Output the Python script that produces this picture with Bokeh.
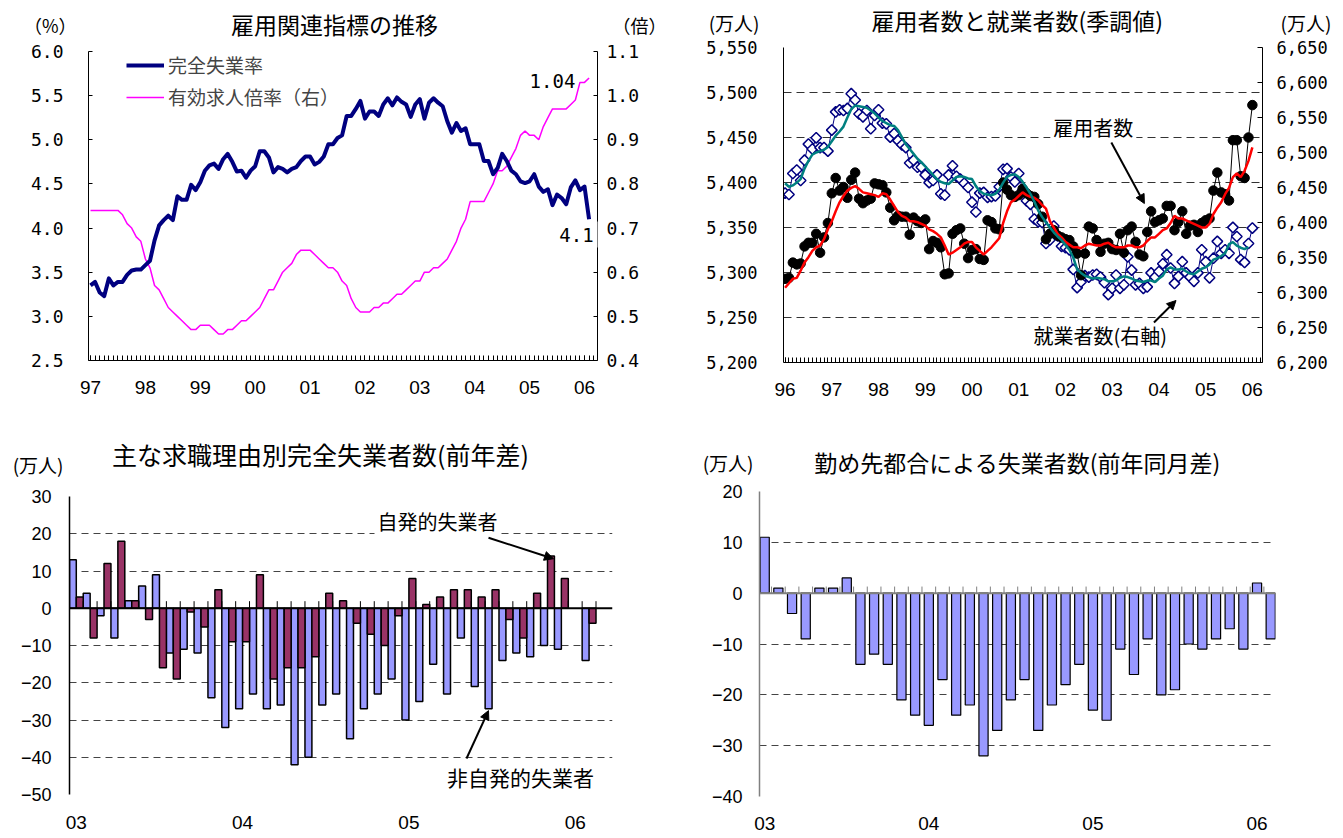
from bokeh.plotting import figure
from bokeh.layouts import row, column
from bokeh.models import (Range1d, LinearAxis, FixedTicker, PrintfTickFormatter,
                          NumeralTickFormatter, Label, Arrow, NormalHead, Legend,
                          LegendItem, Span)
from bokeh.embed import file_html
from bokeh.resources import INLINE

# ---------------- 雇用関連指標の推移 (1997/01 - 2006/02, monthly) ----------------
rate_years = ["97", "98", "99", "00", "01", "02", "03", "04", "05", "06"]
unemployment_rate = [
    3.35, 3.39, 3.27, 3.23, 3.43, 3.35, 3.39, 3.39, 3.47, 3.52, 3.53, 3.53,
    3.58, 3.63, 3.86, 4.03, 4.09, 4.14, 4.09, 4.36, 4.32, 4.32, 4.49, 4.43,
    4.52, 4.65, 4.71, 4.73, 4.67, 4.78, 4.84, 4.75, 4.64, 4.65, 4.57, 4.65,
    4.70, 4.87, 4.87, 4.80, 4.63, 4.69, 4.67, 4.63, 4.67, 4.69, 4.76, 4.81,
    4.81, 4.72, 4.75, 4.81, 4.95, 4.95, 5.02, 5.05, 5.27, 5.27, 5.35, 5.44,
    5.24, 5.32, 5.32, 5.27, 5.40, 5.47, 5.39, 5.48, 5.43, 5.40, 5.26, 5.40,
    5.46, 5.24, 5.42, 5.47, 5.42, 5.38, 5.21, 5.08, 5.19, 5.10, 5.13, 4.95,
    4.95, 4.95, 4.76, 4.76, 4.61, 4.68, 4.84, 4.76, 4.65, 4.61, 4.53, 4.51,
    4.53, 4.61, 4.47, 4.41, 4.44, 4.26, 4.38, 4.34, 4.27, 4.46, 4.54, 4.43,
    4.47, 4.1,
]
job_offers_ratio = [
    0.74, 0.74, 0.74, 0.74, 0.74, 0.74, 0.74, 0.73, 0.71, 0.70, 0.68, 0.67,
    0.63, 0.61, 0.57, 0.56, 0.54, 0.52, 0.51, 0.50, 0.49, 0.48, 0.47, 0.47,
    0.48, 0.48, 0.48, 0.47, 0.46, 0.46, 0.47, 0.47, 0.48, 0.49, 0.49, 0.50,
    0.51, 0.52, 0.54, 0.56, 0.56, 0.58, 0.60, 0.61, 0.62, 0.64, 0.65, 0.65,
    0.65, 0.64, 0.63, 0.62, 0.61, 0.61, 0.60, 0.58, 0.57, 0.54, 0.52, 0.51,
    0.51, 0.51, 0.52, 0.52, 0.53, 0.53, 0.54, 0.55, 0.55, 0.56, 0.57, 0.58,
    0.58, 0.60, 0.60, 0.61, 0.61, 0.62, 0.63, 0.65, 0.67, 0.70, 0.72, 0.76,
    0.76, 0.76, 0.76, 0.78, 0.80, 0.83, 0.83, 0.84, 0.86, 0.88, 0.91, 0.92,
    0.91, 0.91, 0.90, 0.93, 0.95, 0.97, 0.97, 0.97, 0.97, 0.98, 0.99, 1.03,
    1.03, 1.04,
]

# ---------------- 雇用者数と就業者数 (1996/01 - 2006/01, 万人) ----------------
count_years = ["96", "97", "98", "99", "00", "01", "02", "03", "04", "05", "06"]
employees = [
    5293, 5294, 5311, 5309, 5310, 5329, 5333, 5333, 5343, 5322, 5339, 5355,
    5388, 5405, 5391, 5395, 5383, 5403, 5411, 5382, 5377, 5380, 5382, 5399,
    5398, 5397, 5389, 5372, 5358, 5363, 5362, 5362, 5342, 5361, 5357, 5355,
    5359, 5326, 5335, 5333, 5328, 5298, 5299, 5343, 5347, 5349, 5332, 5316,
    5325, 5326, 5315, 5314, 5358, 5356, 5349, 5348, 5400, 5392, 5386, 5384,
    5386, 5393, 5388, 5385, 5384, 5376, 5362, 5337, 5343, 5347, 5341, 5339,
    5337, 5336, 5329, 5321, 5297, 5321, 5351, 5349, 5336, 5323, 5332, 5333,
    5326, 5325, 5343, 5322, 5347, 5351, 5334, 5320, 5318, 5345, 5368, 5356,
    5358, 5360, 5374, 5374, 5347, 5356, 5368, 5343, 5352, 5353, 5345, 5355,
    5358, 5360, 5391, 5411, 5389, 5387, 5380, 5447, 5447, 5407, 5405, 5450,
    5486,
]
employees_trend = [
    5283, 5288, 5293, 5294, 5302, 5311, 5317, 5324, 5328, 5330, 5337, 5348,
    5357, 5368, 5378, 5385, 5391, 5394, 5396, 5393, 5389, 5388, 5387, 5386,
    5384, 5388, 5387, 5381, 5374, 5367, 5363, 5361, 5357, 5357, 5356, 5354,
    5352, 5348, 5346, 5343, 5339, 5330, 5320, 5322, 5325, 5328, 5332, 5334,
    5334, 5328, 5324, 5320, 5324, 5328, 5333, 5338, 5355, 5368, 5378, 5381,
    5385, 5389, 5386, 5384, 5383, 5380, 5375, 5371, 5357, 5350, 5343, 5339,
    5334, 5331, 5328, 5328, 5327, 5330, 5332, 5331, 5330, 5330, 5332, 5333,
    5330, 5328, 5328, 5328, 5330, 5330, 5328, 5328, 5330, 5335, 5339, 5339,
    5343, 5347, 5349, 5355, 5363, 5360, 5360, 5358, 5356, 5354, 5352, 5350,
    5350, 5354, 5365, 5372, 5378, 5387, 5394, 5406, 5410, 5406, 5413, 5424,
    5439,
]
employed = [
    6442, 6440, 6470, 6475, 6460, 6489, 6512, 6505, 6521, 6507, 6507, 6502,
    6532, 6558, 6561, 6560, 6563, 6584, 6575, 6555, 6551, 6560, 6534, 6553,
    6561, 6542, 6541, 6522, 6527, 6517, 6511, 6507, 6485, 6489, 6479, 6479,
    6468, 6457, 6460, 6468, 6441, 6439, 6468, 6481, 6466, 6462, 6456, 6450,
    6429, 6415, 6442, 6443, 6436, 6437, 6438, 6451, 6476, 6477, 6465, 6458,
    6470, 6446, 6431, 6426, 6405, 6401, 6400, 6370, 6375, 6395, 6381, 6366,
    6364, 6361, 6333, 6307, 6315, 6324, 6322, 6325, 6326, 6322, 6314, 6297,
    6306, 6325, 6306, 6311, 6351, 6332, 6311, 6313, 6306, 6308, 6328, 6322,
    6330, 6341, 6354, 6335, 6313, 6323, 6344, 6328, 6322, 6316, 6328, 6361,
    6344, 6321, 6349, 6373, 6356, 6361, 6356, 6393, 6380, 6347, 6343, 6370,
    6392,
]
employed_trend = [
    6456, 6451, 6453, 6457, 6462, 6477, 6488, 6497, 6500, 6502, 6504, 6508,
    6516, 6524, 6530, 6537, 6550, 6562, 6567, 6566, 6565, 6564, 6560, 6556,
    6550, 6545, 6542, 6539, 6538, 6532, 6522, 6512, 6505, 6498, 6491, 6486,
    6480, 6474, 6468, 6462, 6458, 6456, 6455, 6460, 6465, 6466, 6465, 6463,
    6462, 6452, 6445, 6441, 6440, 6439, 6441, 6447, 6457, 6465, 6468, 6469,
    6465, 6458, 6450, 6441, 6430, 6417, 6408, 6400, 6393, 6386, 6380, 6375,
    6368, 6361, 6350, 6333, 6328, 6324, 6322, 6320, 6321, 6320, 6319, 6316,
    6316, 6317, 6321, 6323, 6322, 6320, 6317, 6316, 6315, 6317, 6317, 6315,
    6320, 6324, 6333, 6336, 6333, 6333, 6334, 6330, 6327, 6326, 6330, 6334,
    6336, 6340, 6347, 6349, 6352, 6356, 6369, 6372, 6367, 6364, 6362, 6365,
]

# ---------------- 主な求職理由別完全失業者数 (2003/01 - 2006/02, 前年差, 万人) ----------------
reason_years = ["03", "04", "05", "06"]
involuntary = [
    13, 4, -2, -8, 2, 6, 9, -12, -11, -12, -24, -32,
    -27, -23, -27, -26, -42, -40, -26, -23, -35, -27, -23, -19,
    -30, -25, -15, -23, -8, -21, -27, -14, -12, -13, -10, -11,
    None, -14,
]
voluntary = [
    3, -8, 12, 18, 2, -3, -16, -19, -1, -5, 5, -9,
    -9, 9, -19, -16, -16, -13, 4, 2, -4, -7, -10, -2,
    8, 1, 3, 5, 5, 3, 5, -3, -8, 4, 14, 8,
    None, -4,
]

# ---------------- 勤め先都合による失業者数 (2003/01 - 2006/02, 前年同月差, 万人) ----------------
dismissal_years = ["03", "04", "05", "06"]
dismissal = [
    11, 1, -4, -9, 1, 1, 3, -14, -12, -14, -21, -24,
    -26, -17, -24, -22, -32, -27, -21, -17, -27, -22, -18, -14,
    -23, -25, -11, -16, -9, -20, -19, -10, -11, -9, -7, -11,
    2, -9,
]

JP = "Noto Sans CJK JP"
MONO = "DejaVu Sans Mono"
SANS = "Liberation Sans"

# Page geometry of each panel: canvas origin/size, height of the heading strip
# and the plot-frame edges (all in page pixels)
TL = dict(ox=0, oy=0, w=671, h=419, hh=40, left=88, right=597, top=51, bottom=360,
          x=(-0.44, 110.84), y=(2.5, 6.0))
TR = dict(ox=671, oy=0, w=672, h=419, hh=38, left=783.5, right=1262, top=47, bottom=362,
          x=(-0.4, 122.6), y=(5200, 5550))
BL = dict(ox=0, oy=419, w=671, h=419, hh=61, left=69, right=612, top=495.7, bottom=794,
          x=(-0.49, 38.69), y=(-50, 30))
BR = dict(ox=671, oy=419, w=672, h=419, hh=61, left=758.75, right=1275, top=490.7, bottom=795.7,
          x=(-0.38, 37.35), y=(-40, 20))


def to_data(g, px, py):
    x0, x1 = g["x"]
    y0, y1 = g["y"]
    x = x0 + (px - g["left"]) / (g["right"] - g["left"]) * (x1 - x0)
    y = y0 + (g["bottom"] - py) / (g["bottom"] - g["top"]) * (y1 - y0)
    return x, y


def borders(g):
    return dict(min_border_left=int(round(g["left"] - g["ox"])),
                min_border_right=int(round(g["ox"] + g["w"] - g["right"])))


def unit_axis(yv, text, size, standoff):
    ax = LinearAxis(ticker=FixedTicker(ticks=[yv]), major_label_overrides={yv: text})
    ax.axis_line_color = None
    ax.major_tick_line_color = None
    ax.minor_tick_line_color = None
    ax.major_label_text_font = JP
    ax.major_label_text_font_size = f"{size}px"
    ax.major_label_text_color = "black"
    ax.major_label_standoff = standoff
    return ax


def make_header(g, title, tpos, tsize, units, usize):
    """Strip above a chart: the title inside, unit captions as side-axis labels."""
    hh = g["hh"]
    p = figure(width=g["w"], height=hh,
               x_range=Range1d(g["left"], g["right"]), y_range=Range1d(0, hh),
               x_axis_location=None, y_axis_location=None,
               output_backend="svg", toolbar_location=None, tools="",
               min_border_top=0, min_border_bottom=0, **borders(g))
    p.xgrid.visible = False
    p.ygrid.visible = False
    p.outline_line_color = None
    p.background_fill_color = "white"
    p.border_fill_color = "white"
    p.add_layout(Label(x=tpos[0], y=hh - (tpos[1] - g["oy"]), text=title,
                       text_font=JP, text_font_size=f"{tsize}px",
                       text_align="center", text_baseline="middle", text_color="black"))
    for side, py, text, standoff in units:
        p.add_layout(unit_axis(int(round(hh - (py - g["oy"]))), text, usize, standoff), side)
    return p


def make_fig(g):
    oy = g["oy"] + g["hh"]
    h = g["h"] - g["hh"]
    p = figure(width=g["w"], height=h,
               x_range=Range1d(*g["x"]), y_range=Range1d(*g["y"]),
               output_backend="svg", toolbar_location=None, tools="",
               min_border_top=int(round(g["top"] - oy)),
               min_border_bottom=int(round(oy + h - g["bottom"])), **borders(g))
    p.outline_line_color = None
    p.background_fill_color = "white"
    p.border_fill_color = "white"
    p.xgrid.visible = False
    p.ygrid.visible = False
    return p


def put_text(p, g, px, py, text, size, font=JP, align="center", bg=None, pad=0):
    x, y = to_data(g, px, py)
    lab = Label(x=x, y=y, text=text, text_font=font, text_font_size=f"{size}px",
                text_align=align, text_baseline="middle", text_color="black")
    if bg:
        lab.background_fill_color = bg
        lab.padding = pad
    p.add_layout(lab)


def put_arrow(p, g, p0, p1, width=2):
    x0, y0 = to_data(g, *p0)
    x1, y1 = to_data(g, *p1)
    p.add_layout(Arrow(x_start=x0, y_start=y0, x_end=x1, y_end=y1,
                       line_color="black", line_width=width,
                       end=NormalHead(size=9, fill_color="black", line_color="black")))


def style_axis(ax, font, size, standoff, color="black", tick_in=0, minor_in=0, line_width=1):
    ax.axis_line_color = color
    ax.axis_line_width = line_width
    ax.major_tick_line_color = color
    ax.minor_tick_line_color = color
    ax.major_tick_in = tick_in
    ax.major_tick_out = 0
    ax.minor_tick_in = minor_in
    ax.minor_tick_out = 0
    ax.major_label_text_font = font
    ax.major_label_text_font_size = f"{size}px"
    ax.major_label_text_color = "black"
    ax.major_label_standoff = standoff


# ====================== 雇用関連指標の推移 ======================
h1 = make_header(TL, "雇用関連指標の推移", (334, 23), 23,
                 [("left", 30, "（%）", 6), ("right", 30, "（倍）", 9)], 18)
p1 = make_fig(TL)
p1.extra_y_ranges = {"ratio": Range1d(0.4, 1.1)}
m1 = list(range(len(unemployment_rate)))
ratio_line = p1.line(m1, job_offers_ratio, y_range_name="ratio",
                     line_color="#FF00FF", line_width=1.5)
rate_line = p1.line(m1, unemployment_rate, line_color="#000080", line_width=4,
                    line_join="round")

xa = p1.xaxis[0]
xa.ticker = FixedTicker(ticks=[12 * i for i in range(len(rate_years))],
                        minor_ticks=list(range(0, 111)))
xa.major_label_overrides = {12 * i: y for i, y in enumerate(rate_years)}
style_axis(xa, SANS, 19, 20, tick_in=5, minor_in=5)

ya = p1.yaxis[0]
ya.ticker = FixedTicker(ticks=[2.5 + 0.5 * i for i in range(8)])
ya.formatter = PrintfTickFormatter(format="%.1f")
style_axis(ya, MONO, 18, 25, tick_in=4)

ra = LinearAxis(y_range_name="ratio",
                ticker=FixedTicker(ticks=[0.4 + 0.1 * i for i in range(8)]),
                formatter=PrintfTickFormatter(format="%.1f"))
style_axis(ra, MONO, 18, 9, tick_in=4)
p1.add_layout(ra, "right")

legend = Legend(items=[LegendItem(label="完全失業率", renderers=[rate_line]),
                       LegendItem(label="有効求人倍率（右）", renderers=[ratio_line])],
                location=(38, 250), orientation="vertical",
                label_text_font=JP, label_text_font_size="19px",
                glyph_width=38, glyph_height=22, label_height=22, label_standoff=4,
                spacing=5, padding=0, margin=0,
                border_line_color=None, background_fill_alpha=0)
p1.add_layout(legend)

put_text(p1, TL, 552, 80, "1.04", 19, font=MONO)
put_text(p1, TL, 576, 234, "4.1", 19, font=MONO, bg="white", pad=6)

# ====================== 雇用者数と就業者数(季調値) ======================
h2 = make_header(TR, "雇用者数と就業者数(季調値)", (1017, 19), 23,
                 [("left", 27, "(万人)", 18), ("right", 27, "(万人)", 12)], 19)
p2 = make_fig(TR)
p2.extra_y_ranges = {"persons": Range1d(6200, 6650)}
m2 = list(range(len(employees)))

p2.ygrid.visible = True
p2.ygrid.ticker = FixedTicker(ticks=[5200 + 50 * i for i in range(8)])
p2.ygrid.grid_line_color = "#333333"
p2.ygrid.grid_line_dash = "8 5"
p2.ygrid.grid_line_width = 1

p2.line(m2, employed, y_range_name="persons", line_color="#000080", line_width=1)
p2.scatter(m2, employed, y_range_name="persons", marker="square", angle=0.785398,
           size=7.5, fill_color="white", line_color="#000080", line_width=1.5)
p2.line(m2, employees, line_color="black", line_width=1)
p2.scatter(m2, employees, marker="circle", size=9.5, fill_color="black", line_color="black")
p2.line(m2, employees_trend, line_color="#FF0000", line_width=2.5)
p2.line(list(range(len(employed_trend))), employed_trend, y_range_name="persons",
        line_color="#008080", line_width=2.5)

xa = p2.xaxis[0]
xa.ticker = FixedTicker(ticks=[12 * i for i in range(len(count_years))],
                        minor_ticks=list(range(0, 123)))
xa.major_label_overrides = {12 * i: y for i, y in enumerate(count_years)}
style_axis(xa, SANS, 19, 20, tick_in=5, minor_in=5)

ya = p2.yaxis[0]
ya.ticker = FixedTicker(ticks=[5200 + 50 * i for i in range(8)])
ya.formatter = NumeralTickFormatter(format="0,0")
style_axis(ya, MONO, 17, 26, tick_in=0)

ra = LinearAxis(y_range_name="persons",
                ticker=FixedTicker(ticks=[6200 + 50 * i for i in range(10)]),
                formatter=NumeralTickFormatter(format="0,0"))
style_axis(ra, MONO, 17, 14, tick_in=5)
p2.add_layout(ra, "right")

put_text(p2, TR, 1093, 127, "雇用者数", 20, bg="white", pad=3)
put_arrow(p2, TR, (1111, 142), (1144, 203))
put_text(p2, TR, 1100, 335, "就業者数(右軸)", 20)
put_arrow(p2, TR, (1153.6, 322), (1175.6, 300))

# ====================== 主な求職理由別完全失業者数(前年差) ======================
h3 = make_header(BL, "主な求職理由別完全失業者数(前年差)", (320, 453), 25,
                 [("left", 469, "(万人)", 0)], 19)
p3 = make_fig(BL)
p3.ygrid.visible = True
p3.ygrid.ticker = FixedTicker(ticks=[v for v in range(-50, 31, 10) if v != 0])
p3.ygrid.grid_line_color = "#444444"
p3.ygrid.grid_line_dash = "7 5"

inv_x = [i - 0.25 for i, v in enumerate(involuntary) if v is not None]
inv_top = [v for v in involuntary if v is not None]
vol_x = [i + 0.25 for i, v in enumerate(voluntary) if v is not None]
vol_top = [v for v in voluntary if v is not None]
p3.vbar(x=inv_x, top=inv_top, bottom=0, width=0.5,
        fill_color="#9999FF", line_color="black", line_width=1.5)
p3.vbar(x=vol_x, top=vol_top, bottom=0, width=0.5,
        fill_color="#993366", line_color="black", line_width=1.5)
bounds3 = [i + 0.5 for i in range(len(involuntary))]
p3.segment(x0=bounds3, y0=[0] * len(bounds3), x1=bounds3, y1=[1.9] * len(bounds3),
           line_color="black", line_width=1)
p3.add_layout(Span(location=0, dimension="width", line_color="black", line_width=2))

xa = p3.xaxis[0]
xa.ticker = FixedTicker(ticks=[12 * i for i in range(len(reason_years))])
xa.major_label_overrides = {12 * i: y for i, y in enumerate(reason_years)}
style_axis(xa, SANS, 19, 21)
xa.axis_line_color = None

ya = p3.yaxis[0]
ya.ticker = FixedTicker(ticks=list(range(-50, 31, 10)))
ya.major_label_overrides = {v: str(v).replace("-", "\u2212") for v in range(-50, 31, 10)}
style_axis(ya, SANS, 18, 18, line_width=1.5)

put_text(p3, BL, 437, 521, "自発的失業者", 20, bg="white", pad=3)
put_arrow(p3, BL, (488, 537), (553, 558))
put_text(p3, BL, 520, 776, "非自発的失業者", 21)
put_arrow(p3, BL, (466, 758), (488, 710))

# ====================== 勤め先都合による失業者数(前年同月差) ======================
h4 = make_header(BR, "勤め先都合による失業者数(前年同月差)", (1017, 461), 23,
                 [("left", 471, "(万人)", 0)], 19)
p4 = make_fig(BR)
p4.ygrid.visible = True
p4.ygrid.ticker = FixedTicker(ticks=[v for v in range(-40, 21, 10) if v != 0])
p4.ygrid.grid_line_color = "#444444"
p4.ygrid.grid_line_dash = "7 5"

p4.vbar(x=list(range(len(dismissal))), top=dismissal, bottom=0, width=0.67,
        fill_color="#9999FF", line_color="black", line_width=1.2)
bounds4 = [i + 0.5 for i in range(len(dismissal))]
p4.segment(x0=bounds4, y0=[0] * len(bounds4), x1=bounds4, y1=[1.3] * len(bounds4),
           line_color="#808080", line_width=1)
p4.add_layout(Span(location=0, dimension="width", line_color="#808080", line_width=2))

xa = p4.xaxis[0]
xa.ticker = FixedTicker(ticks=[12 * i for i in range(len(dismissal_years))])
xa.major_label_overrides = {12 * i: y for i, y in enumerate(dismissal_years)}
style_axis(xa, SANS, 19, 20)
xa.axis_line_color = None

ya = p4.yaxis[0]
ya.ticker = FixedTicker(ticks=list(range(-40, 21, 10)))
ya.major_label_overrides = {v: str(v).replace("-", "\u2212") for v in range(-40, 21, 10)}
style_axis(ya, SANS, 18, 17, color="#808080", line_width=1.5)

layout = column(row(column(h1, p1), column(h2, p2)),
                row(column(h3, p3), column(h4, p4)))
open("out.html", "w").write(file_html(layout, INLINE))
